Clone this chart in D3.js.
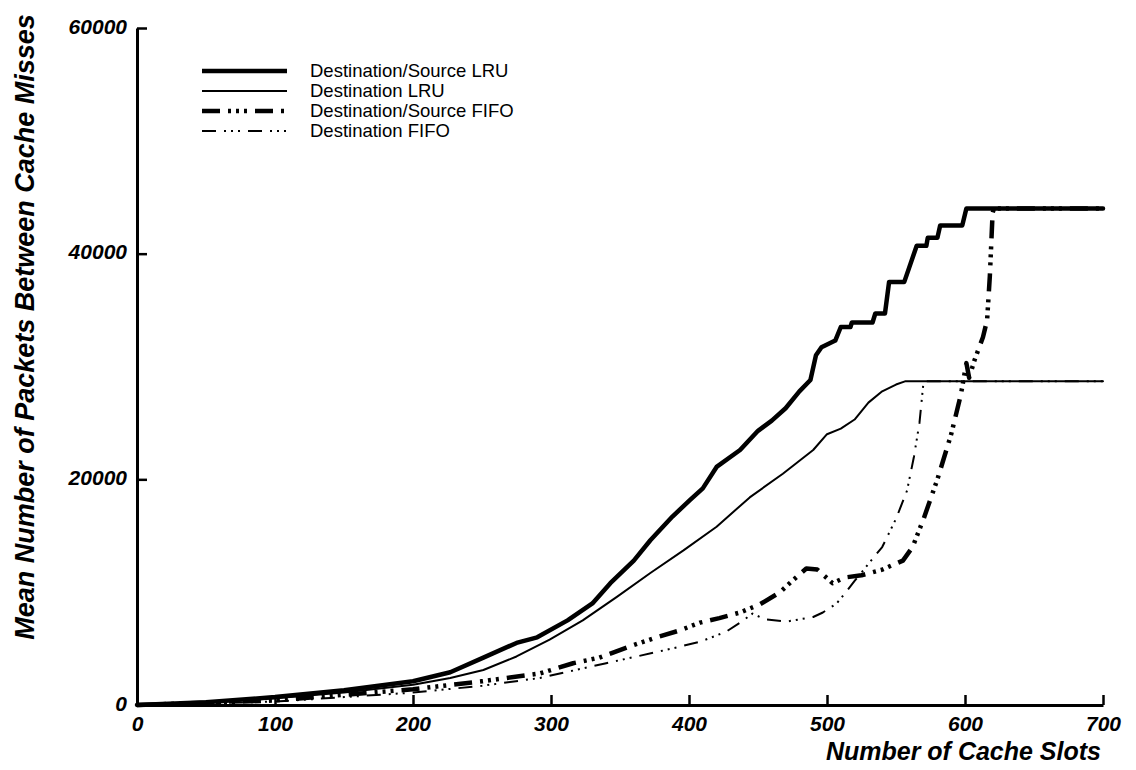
<!DOCTYPE html>
<html>
<head>
<meta charset="utf-8">
<script src="https://cdn.jsdelivr.net/npm/d3@7"></script>
<style>
  html, body { margin: 0; padding: 0; background: #fff; }
  svg { display: block; }
</style>
</head>
<body>
<svg id="chart" width="1136" height="770"></svg>
<script>
// ---- data ----
const xTicks = [0, 100, 200, 300, 400, 500, 600, 700];
const yTicks = [0, 20000, 40000, 60000];

const seriesNames = [
  "Destination/Source LRU",
  "Destination LRU",
  "Destination/Source FIFO",
  "Destination FIFO"
];

const dsLru = [
  [0,0],[50,250],[100,700],[150,1300],[200,2100],[227,2900],[251,4200],[275,5500],
  [290,6000],[312,7500],[330,9000],[343,10800],[360,12800],[372,14600],[388,16700],
  [401,18200],[410,19200],[420,21100],[437,22600],[450,24300],[460,25200],[470,26300],
  [480,27800],[488,28800],[492,31000],[496,31700],[506,32300],[510,33500],[517,33500],
  [518,33900],[533,33900],[535,34700],[542,34700],[545,37500],[556,37500],[565,40700],
  [572,40700],[573,41400],[580,41400],[582,42500],[598,42500],[601,44000],[700,44000]
];

const dLru = [
  [0,0],[50,250],[100,600],[150,1100],[200,1800],[227,2400],[251,3100],[275,4300],
  [299,5800],[323,7500],[348,9600],[372,11700],[396,13700],[420,15800],[444,18400],
  [468,20500],[490,22600],[500,24000],[510,24500],[520,25300],[530,26800],[540,27800],
  [550,28400],[557,28700],[700,28700]
];

const dsFifo = [
  [0,0],[100,400],[150,900],[200,1400],[250,2100],[292,2800],[316,3700],[335,4200],
  [355,5100],[374,5900],[393,6600],[408,7300],[422,7700],[437,8200],[451,8900],
  [466,10000],[473,10800],[485,12100],[493,12000],[504,10800],[513,11300],[525,11500],
  [540,12000],[555,12800],[562,14000],[570,16500],[580,20000],[590,24000],[597,27500],
  [601,30300],[603,29000],[607,30600],[613,32600],[616,34100],[618,38000],[620,43600],
  [621,44000],[700,44000]
];

const dFifo = [
  [0,0],[100,300],[150,700],[200,1100],[250,1700],[292,2400],[340,3700],[384,4900],
  [408,5600],[427,6500],[437,7300],[446,8100],[455,7600],[471,7400],[490,7800],
  [497,8200],[507,9000],[513,9900],[520,11000],[530,12500],[540,14000],[550,16500],
  [558,19000],[563,22000],[567,25000],[570,28700],[700,28700]
];

// ---- styles ----
const styles = [
  { width: 4.5, dash: null },
  { width: 2, dash: null },
  { width: 4.5, dash: "18,8,3,5,3,5,3,8" },
  { width: 2, dash: "14,8,2,5,2,5,2,8" }
];
const seriesData = [dsLru, dLru, dsFifo, dFifo];

// ---- layout ----
const svg = d3.select("#chart");
const x0 = 137, x1 = 1103, yBottom = 705, yTop = 28;

const x = d3.scaleLinear().domain([0, 700]).range([x0, x1]);
const y = d3.scaleLinear().domain([0, 60000]).range([yBottom, yTop]);

const tickFont = "'Liberation Sans', Arial, Helvetica, sans-serif";

// axes
const xAxis = d3.axisBottom(x).tickValues(xTicks).tickFormat(d3.format("d"))
  .tickSizeInner(-10).tickSizeOuter(0).tickPadding(14);
const yAxis = d3.axisLeft(y).tickValues(yTicks).tickFormat(d3.format("d"))
  .tickSizeInner(-10).tickSizeOuter(0).tickPadding(10);

const gx = svg.append("g").attr("transform", `translate(0,${yBottom})`).call(xAxis);
const gy = svg.append("g").attr("transform", `translate(${x0},0)`).call(yAxis);

[gx, gy].forEach(g => {
  g.select(".domain").attr("stroke", "#000").attr("stroke-width", 3);
  g.selectAll(".tick line").attr("stroke", "#000").attr("stroke-width", 2.5);
  g.selectAll(".tick text")
    .attr("fill", "#000")
    .style("font-family", tickFont)
    .style("font-weight", "bold")
    .style("font-style", "italic")
    .style("font-size", "21px");
});
gx.selectAll(".tick text").attr("dy", "0.55em");
gy.selectAll(".tick text").attr("dy", "0.25em");

// lines
const line = d3.line().x(d => x(d[0])).y(d => y(d[1]));
seriesData.forEach((data, i) => {
  svg.append("path")
    .datum(data)
    .attr("d", line)
    .attr("fill", "none")
    .attr("stroke", "#000")
    .attr("stroke-width", styles[i].width)
    .attr("stroke-linejoin", "round")
    .attr("stroke-linecap", styles[i].dash ? "butt" : "round")
    .attr("stroke-dasharray", styles[i].dash);
});

// axis titles
svg.append("text")
  .attr("x", x1 - 2).attr("y", 760)
  .attr("text-anchor", "end")
  .style("font-family", tickFont).style("font-weight", "bold").style("font-style", "italic")
  .style("font-size", "25px")
  .text("Number of Cache Slots");

svg.append("text")
  .attr("transform", "translate(34,327) rotate(-90)")
  .attr("text-anchor", "middle")
  .style("font-family", tickFont).style("font-weight", "bold").style("font-style", "italic")
  .style("font-size", "27px")
  .text("Mean Number of Packets Between Cache Misses");

// legend
const legendRows = [71, 91, 111, 131];
const lg = svg.append("g");
seriesNames.forEach((name, i) => {
  lg.append("line")
    .attr("x1", 202).attr("x2", 287)
    .attr("y1", legendRows[i]).attr("y2", legendRows[i])
    .attr("stroke", "#000")
    .attr("stroke-width", styles[i].width)
    .attr("stroke-dasharray", styles[i].dash);
  lg.append("text")
    .attr("x", 310).attr("y", legendRows[i] + 6)
    .style("font-family", tickFont)
    .style("font-size", "18.5px")
    .attr("fill", "#000")
    .text(name);
});
</script>
</body>
</html>
